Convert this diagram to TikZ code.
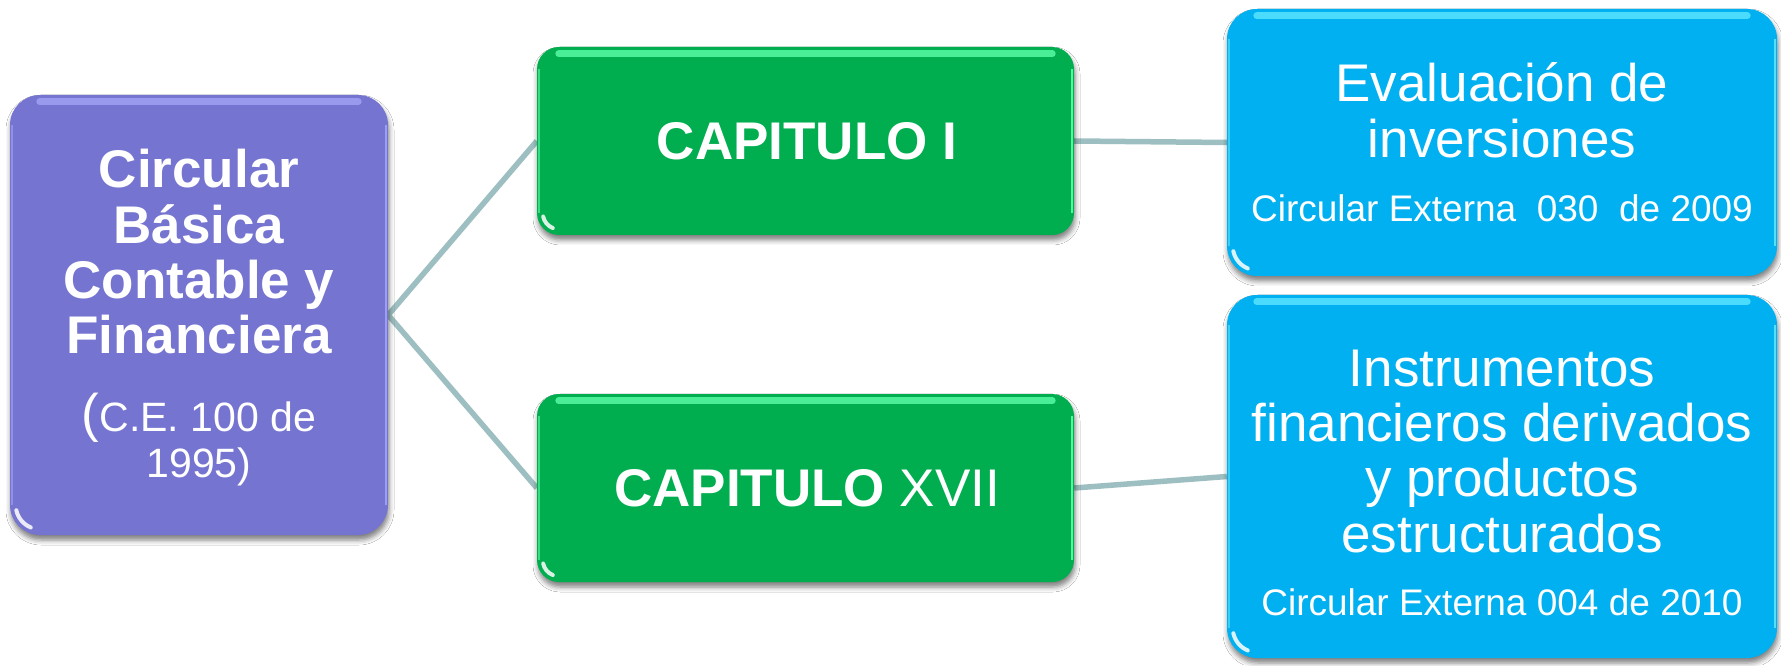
\documentclass[tikz,border=0pt]{standalone}
\usepackage{fontspec}
\setmainfont{Liberation Sans}
\usetikzlibrary{shadows.blur,backgrounds}
\definecolor{cpurple}{HTML}{7575D1}
\definecolor{cgreen}{HTML}{00AE50}
\definecolor{cblue}{HTML}{00B0F0}
\definecolor{cline}{HTML}{9EBFC1}
\definecolor{hpurple}{HTML}{A3A3F5}
\definecolor{hgreen}{HTML}{5DFFA8}
\definecolor{hblue}{HTML}{5EE6FF}
\newcommand\glossit[3]{%
  \draw[line width=7pt, #3, line cap=round, opacity=.8]
    ([xshift=#2pt, yshift=-7pt]#1.north west) -- ([xshift=-#2pt, yshift=-7pt]#1.north east);
  \draw[line width=2pt, #3, opacity=.9]
    ([xshift=-2pt, yshift=-#2pt]#1.north east) -- ([xshift=-2pt, yshift=#2pt]#1.south east);
  \draw[line width=1.5pt, #3, opacity=.6]
    ([xshift=2pt, yshift=-#2pt]#1.north west) -- ([xshift=2pt, yshift=#2pt]#1.south west);
  \draw[line width=4pt, white, opacity=.85, line cap=round]
    ([shift={(#2,#2)}]#1.south west) ++(192:#2-6) arc[start angle=192, end angle=248, radius=#2-6];
}
\begin{document}
\begin{tikzpicture}[x=1pt,y=1pt,
  panel/.style={rectangle, rounded corners=#1, draw=none, inner sep=0pt,
    blur shadow={shadow xshift=1pt, shadow yshift=-5pt, shadow blur radius=5pt, shadow opacity=50}},
  tx/.style={text=white, inner sep=0pt, anchor=base},
  conn/.style={draw=cline, line width=5.5pt}]
\useasboundingbox (0,0) rectangle (1781,665);

% boxes
\node[panel=30pt, fill=cpurple, minimum width=378, minimum height=440] (cb) at (199,350) {};
\node[panel=22pt, fill=cgreen, minimum width=537, minimum height=188] (g1) at (805.5,524) {};
\node[panel=22pt, fill=cgreen, minimum width=537, minimum height=188] (g2) at (805.5,177) {};
\node[panel=30pt, fill=cblue, minimum width=550, minimum height=267] (b1) at (1502,522.5) {};
\node[panel=30pt, fill=cblue, minimum width=550, minimum height=363] (b2) at (1502,188.5) {};

\glossit{cb}{30}{hpurple}
\glossit{g1}{22}{hgreen}
\glossit{g2}{22}{hgreen}
\glossit{b1}{30}{hblue}
\glossit{b2}{30}{hblue}

% connectors
\begin{scope}[on background layer]
  \fill[white] (0,0) rectangle (1781,665);
  \draw[conn] (g1.west) -- (cb.east) -- (g2.west);
  \draw[conn] (g1.east) -- (b1.west);
  \draw[conn] (g2.east) -- (b2.west);
\end{scope}

% texts
\node[tx, font=\fontsize{53}{55}\selectfont\bfseries] (cbt) at (199,477)
  {\begin{tabular}[t]{@{}c@{}}Circular\\Básica\\Contable y\\Financiera\end{tabular}};
\node[tx, font=\fontsize{41}{47}\selectfont] (cbs) at (199,234)
  {\begin{tabular}[t]{@{}c@{}}{\fontsize{53}{47}\selectfont(}C.E. 100 de\\1995)\end{tabular}};

\node[tx, font=\fontsize{53}{55}\selectfont] (g1t) at (807,505.7) {\textbf{CAPITULO I}};
\node[tx, font=\fontsize{53}{55}\selectfont] (g2t) at (807,159) {\textbf{CAPITULO} XVII};

\node[tx, font=\fontsize{53}{56}\selectfont] (b1t) at (1502,563)
  {\begin{tabular}[t]{@{}c@{}}Evaluación de\\inversiones\end{tabular}};
\node[tx, font=\fontsize{37}{44}\selectfont] (b1s) at (1502,443) {Circular Externa\ \ 030\ \ de 2009};

\node[tx, font=\fontsize{53}{55.5}\selectfont] (b2t) at (1502,279)
  {\begin{tabular}[t]{@{}c@{}}Instrumentos\\financieros derivados\\y productos\\estructurados\end{tabular}};
\node[tx, font=\fontsize{37}{44}\selectfont] (b2s) at (1502,50) {Circular Externa 004 de 2010};
\end{tikzpicture}
\end{document}
